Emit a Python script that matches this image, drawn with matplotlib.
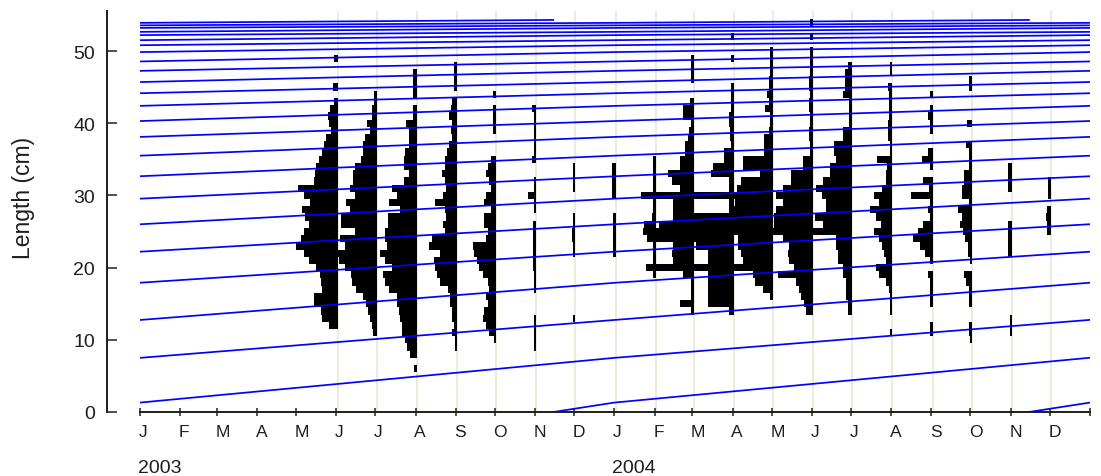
import datetime as dt
import matplotlib
matplotlib.use("Agg")
import matplotlib.pyplot as plt
import matplotlib.dates as mdates
from matplotlib.patches import Rectangle
from matplotlib.transforms import blended_transform_factory

plt.rcParams['font.family'] = ['Liberation Sans', 'DejaVu Sans']

# ---------------- data ----------------
# growth curve: length (cm) at age (years since birth on 15 Nov)
growth_age = [0, 0.128, 1.128, 2.128, 3.128, 4.128, 5.128, 6.128, 7.128, 8.128,
              9.128, 10.128, 11.128, 12.128, 13.128, 14.128, 15.128, 16.128,
              17.128, 18.128, 19.128, 20.128, 21.128, 22.128, 23.128, 24.0]
growth_len = [0, 1.3, 7.5, 12.75, 17.9, 22.2, 26.0, 29.55, 32.65, 35.5, 38.1,
              40.3, 42.4, 44.15, 45.7, 47.25, 48.55, 49.85, 50.8, 51.5, 52.2,
              52.65, 53.2, 53.55, 53.9, 54.3]
cohort_birth_years = list(range(1979, 2005))   # each born 15 November

# length-frequency samples: date, lowest length class (cm), frequencies upward
sample_dates = ["2003-06-02", "2003-07-02", "2003-08-02", "2003-09-02", "2003-10-02",
                "2003-11-02", "2003-12-02", "2004-01-02", "2004-02-02", "2004-03-02",
                "2004-04-02", "2004-05-02", "2004-06-02", "2004-07-02", "2004-08-02",
                "2004-09-02", "2004-10-02", "2004-11-02", "2004-12-02"]
sample_first_class = [12, 11, 6, 9, 10, 9, 13, 22, 19, 14, 14, 16, 14, 14, 11, 11, 10, 11, 25]

freq_jun03 = [9, 16, 17, 24, 24, 16, 17, 18, 22, 29, 34, 42, 37, 34, 29, 33, 36, 28, 34, 40,
              24, 23, 22, 19, 16, 14, 12, 7, 9, 10, 8, 3.5, 0, 4.5, 0, 0, 0, 3.5]
freq_jul03 = [4, 5, 7, 9, 11, 14, 21, 25, 26, 32, 38, 39, 32, 37, 22, 36, 36, 27, 31, 22,
              27, 24, 24, 22, 16, 14, 14, 12, 7, 10, 4.5, 4.5, 3, 3]
freq_aug03 = [3, 0, 7, 10, 12, 15, 15, 17, 18, 20, 20, 28, 32, 34, 25, 32, 37, 30, 32, 32,
              29, 29, 17, 28, 20, 25, 13, 8, 13, 13, 12, 8, 8, 8, 11, 4, 4, 0, 4, 4, 4, 4]
freq_sep03 = [2.5, 2.5, 5, 3, 5, 5, 7, 7, 9, 17, 20, 22, 23, 17, 28, 25, 12, 14, 11, 12,
              22, 14, 11, 12, 15, 12, 12, 10, 8, 5, 6, 5, 8, 6, 5, 0, 3, 3, 3, 3]
freq_oct03 = [2, 7, 10, 13, 12, 8, 10, 7, 8, 13, 17, 19, 22, 23, 10, 8, 12, 12, 5, 12,
              10, 5, 7, 10, 8, 5, 0, 0, 0, 2.7, 2.7, 2.7, 2.7, 0, 2.7]
freq_nov03 = [2.5, 2.5, 2.5, 2.5, 2.5, 0, 0, 0, 2.5, 2.5, 2.5, 3, 3, 3, 3, 3, 3, 3, 0,
              2.5, 2.5, 8, 2.5, 2.5, 0, 0, 4, 2.5, 2.5, 2.5, 2.5, 2.5, 2.5, 4]
freq_dec03 = [2.5, 0, 0, 0, 0, 0, 0, 0, 0, 2.5, 2.5, 3.5, 3.5, 2.5, 2.5, 0, 0, 0,
              2.5, 2.5, 2.5, 2.5]
freq_jan04 = [2.7, 2.7, 2.7, 2.7, 2.7, 2.7, 0, 0, 3.5, 3.5, 3.5, 4, 3.5]
freq_feb04 = [2.5, 10, 2.5, 3, 2.5, 9, 13, 12, 4, 2.5, 2.5, 15, 2.5, 2.5, 2.5, 2.5, 2.5]
freq_mar04 = [3, 14, 3, 3, 3, 11, 38, 21, 22, 21, 38, 40, 35, 21, 21, 21, 40, 14, 22, 26,
              14, 14, 9, 9, 6, 4.3, 3, 11, 11, 4, 0, 0, 3, 3, 3, 3]
freq_apr04 = [5, 26, 26, 26, 26, 26, 45, 26, 26, 38, 45, 45, 40, 40, 5, 5, 42, 5, 5, 23,
              21, 10, 10, 3, 4, 4, 5, 5, 3, 3, 3, 3, 0, 0, 0, 3, 0, 0, 3]
freq_may04 = [3, 10, 18, 20, 40, 30, 32, 35, 35, 45, 40, 40, 40, 38, 42, 36, 32, 13, 30, 30,
              9, 9, 9, 4, 3, 3, 8, 3.5, 6, 4, 4, 3, 3, 3, 3]
freq_jun04 = [7, 9, 12, 14, 17, 35, 19, 24, 25, 24, 30, 45, 39, 39, 37, 30, 37, 30, 22, 22,
              10, 10, 3, 3, 4, 4, 3, 3, 4, 4, 3, 4, 4, 3, 3, 3, 3, 0, 3, 0, 3]
freq_jul04 = [4, 4, 6, 6, 6, 9, 9, 14, 14, 16, 16, 40, 29, 37, 26, 26, 30, 36, 29, 22,
              22, 16, 18, 18, 9, 9, 3, 3, 3, 3, 9, 6.7, 6.7, 6.7, 4.5]
freq_aug04 = [2, 0, 0, 2, 2, 2, 3, 6, 13, 16, 6, 8, 10, 13, 18, 11, 16, 22, 13, 18,
              10, 6, 6, 5, 15, 2.5, 2.5, 4, 4, 4, 3, 3, 3, 3, 4, 0, 2.5, 2.5]
freq_sep04 = [2.5, 2.5, 0, 0, 3, 3, 3, 3, 5, 0, 3, 8, 13, 20, 15, 10, 3, 5, 3, 22,
              4, 10, 0, 3, 11, 5, 0, 0, 3, 3, 4.5, 3, 0, 3]
freq_oct04 = [2, 3, 3, 0, 0, 2.5, 2.5, 2.5, 5.3, 8, 0, 2, 4, 4, 7, 9, 12, 10, 14, 3,
              10, 10, 7.7, 7.7, 3, 3, 3, 6, 0, 0, 4.3, 0, 0, 0, 0, 3, 3]
freq_nov04 = [2.3, 2.3, 2.3, 0, 0, 0, 0, 0, 0, 0, 0, 4, 4, 4, 4, 4, 0, 0, 0, 0, 4, 4, 4, 4]
freq_dec04 = [4, 4, 5, 4, 0, 3, 3, 3]

sample_freqs = [freq_jun03, freq_jul03, freq_aug03, freq_sep03, freq_oct03, freq_nov03,
                freq_dec03, freq_jan04, freq_feb04, freq_mar04, freq_apr04, freq_may04,
                freq_jun04, freq_jul04, freq_aug04, freq_sep04, freq_oct04, freq_nov04,
                freq_dec04]

month_letters = ["J", "F", "M", "A", "M", "J", "J", "A", "S", "O", "N", "D"]
year_labels = ["2003", "2004"]
y_ticks = [0, 10, 20, 30, 40, 50]

# ---------------- layout ----------------
W, H = 1101, 477
fig = plt.figure(figsize=(W / 100, H / 100), dpi=100)
L_PX, R_PX, T_PX, B_PX = 107, 1090, 12, 413
ax = fig.add_axes([L_PX / W, 1 - B_PX / H, (R_PX - L_PX) / W, (B_PX - T_PX) / H])

x_start = mdates.date2num(dt.date(2003, 1, 1))
x_end = mdates.date2num(dt.date(2005, 1, 1))
START_PX = 140
px_per_day = (R_PX - START_PX) / (x_end - x_start)
ax.set_xlim(x_start - (START_PX - L_PX) / px_per_day, x_end)
ax.set_ylim(0, (B_PX - T_PX) / 7.22)

UNIT_DAYS = 1.0 / px_per_day   # one frequency unit drawn as one pixel

TEXT = "#1e1e1e"
GRID = "#ecead6"
BLUE = "#0000ff"

# sample grid lines
for d in sample_dates:
    ax.axvline(mdates.datestr2num(d), color=GRID, lw=1.3, zorder=1)

# histograms (bars extend to the left of the sample date)
for d, c0, fr in zip(sample_dates, sample_first_class, sample_freqs):
    xd = mdates.datestr2num(d)
    ys, ws, ls = [], [], []
    for i, f in enumerate(fr):
        if f > 0:
            ys.append(c0 + i)
            ws.append(f * UNIT_DAYS)
            ls.append(xd - f * UNIT_DAYS)
    ax.barh(ys, ws, left=ls, height=1.0, color="black", lw=0, zorder=2,
            antialiased=False)

# growth curves
clip = Rectangle((x_start, 0), x_end - x_start, 60, transform=ax.transData)
for by in cohort_birth_years:
    b = mdates.date2num(dt.date(by, 11, 15))
    xs = [b + a * 365.25 for a in growth_age]
    ln, = ax.plot(xs, growth_len, color=BLUE, lw=1.25, zorder=3, solid_joinstyle="miter")
    ln.set_clip_path(clip)

# axes styling
for s in ["top", "right"]:
    ax.spines[s].set_visible(False)
ax.spines["left"].set_color(TEXT)
ax.spines["left"].set_linewidth(1.4)
ax.spines["bottom"].set_color(TEXT)
ax.spines["bottom"].set_linewidth(1.4)
ax.spines["bottom"].set_bounds(x_start, x_end)

ax.set_yticks(y_ticks)
ax.set_yticklabels([str(v) for v in y_ticks])
ax.tick_params(axis="y", direction="in", length=7.2, width=1.1, pad=8.5,
               labelsize=14, colors=TEXT)

month_starts = []
for yr in (2003, 2004):
    for m in range(1, 13):
        month_starts.append(mdates.date2num(dt.date(yr, m, 1)))
ax.set_xticks(month_starts + [x_end])
ax.tick_params(axis="x", direction="inout", length=6, width=1.1, labelbottom=False,
               colors=TEXT)

trans = blended_transform_factory(ax.transData, fig.transFigure)
for i, xm in enumerate(month_starts):
    ax.text(xm - 1.3 * UNIT_DAYS, (H - 436.7) / H, month_letters[i % 12], transform=trans,
            ha="left", va="baseline", fontsize=12.5, color=TEXT)
for yr_lab, yr in zip(year_labels, (2003, 2004)):
    xm = mdates.date2num(dt.date(yr, 1, 1))
    ax.text(xm - 2 * UNIT_DAYS, (H - 473) / H, yr_lab, transform=trans,
            ha="left", va="baseline", fontsize=14, color=TEXT)

fig.text(23.3 / W, 1 - 197.5 / H, "Length (cm)", rotation=90, ha="center", va="center",
         fontsize=16.5, color=TEXT)

fig.savefig("out.png", dpi=100, facecolor="white")
